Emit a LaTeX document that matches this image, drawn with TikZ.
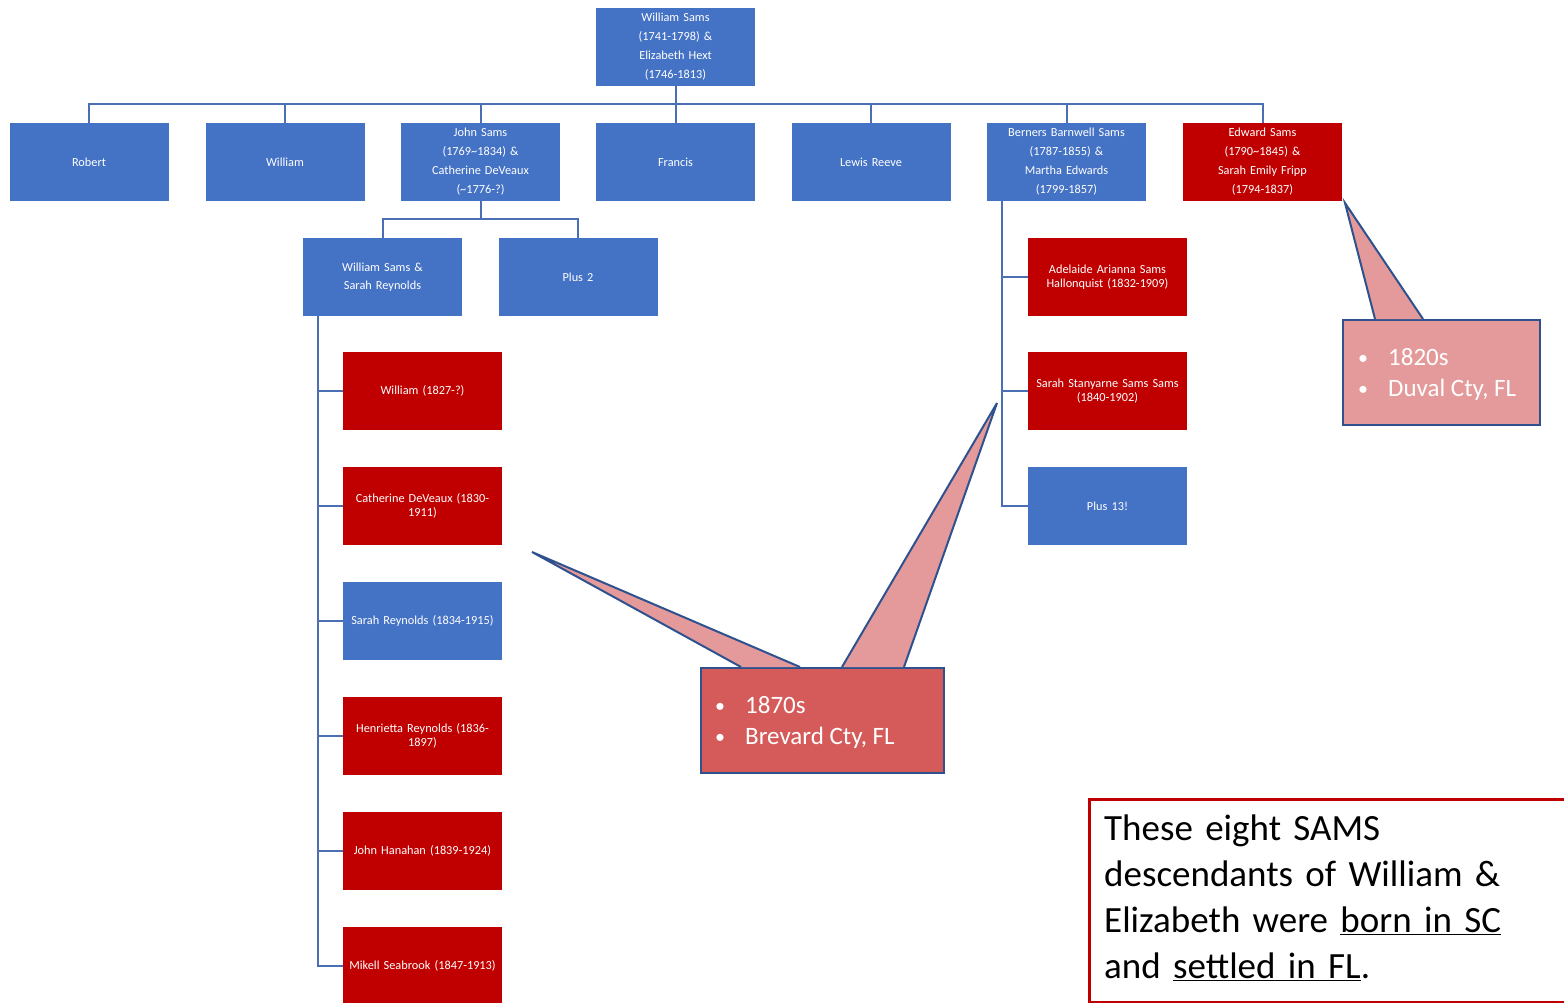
\documentclass[tikz,border=0pt]{standalone}
\usepackage{fontspec}
\setmainfont{Carlito}
\usetikzlibrary{calc}
\definecolor{bblue}{HTML}{4472C4}
\definecolor{rred}{HTML}{C00000}
\definecolor{lnblue}{HTML}{4A6FB5}
\definecolor{cborder}{HTML}{2F528F}
\definecolor{cpink}{HTML}{E49A9A}
\definecolor{cred}{HTML}{D55B5B}
\tikzset{
  pbox/.style={rectangle, minimum width=159pt, minimum height=78pt, inner sep=0pt,
    text width=155pt, align=center, text=white, font=\fontsize{12.3}{19}\selectfont},
  bluebox/.style={pbox, fill=bblue},
  redbox/.style={pbox, fill=rred},
  tight/.style={font=\fontsize{12.3}{14}\selectfont},
  conn/.style={draw=lnblue, line width=2pt},
  callout/.style={draw=cborder, line width=2pt, line join=miter},
  ctext/.style={text=white, font=\fontsize{25}{31}\selectfont, align=left, anchor=north west, inner sep=0pt}
}
\newcommand{\bul}[1]{\makebox[30pt][l]{\raisebox{1pt}{\scalebox{0.8}{•}}}#1}
\newcommand{\myul}[1]{\underline{#1}}
\begin{document}
\begin{tikzpicture}[x=1pt,y=-1pt]
\useasboundingbox (0,0) rectangle (1564,1003);
\clip (0,0) rectangle (1564,1003);
\fill[white] (0,0) rectangle (1564,1003);

% top
\node[bluebox] (top) at (675.5,47) {William Sams\\(1741-1798) \&\\Elizabeth Hext\\(1746-1813)};
% row 2
\node[bluebox] (robert) at (89,162) {Robert};
\node[bluebox] (william) at (285,162) {William};
\node[bluebox] (john) at (480.5,162) {John Sams\\(1769\textasciitilde1834) \&\\Catherine DeVeaux\\(\textasciitilde1776-?)};
\node[bluebox] (francis) at (675.5,162) {Francis};
\node[bluebox] (lewis) at (871,162) {Lewis Reeve};
\node[bluebox] (berners) at (1066.5,162) {Berners Barnwell Sams\\(1787-1855) \&\\Martha Edwards\\(1799-1857)};
\node[redbox] (edward) at (1262.5,162) {Edward Sams\\(1790\textasciitilde1845) \&\\Sarah Emily Fripp\\(1794-1837)};

\foreach \c in {robert,william,john,francis,lewis,berners,edward}
  \draw[conn] (top.south) -- ++(0,18) -| (\c.north);

% John's children
\node[bluebox, tight] (wss) at (382.5,277) {William Sams \&\\[4pt]Sarah Reynolds};
\node[bluebox] (plus2) at (578,277) {Plus 2};
\foreach \c in {wss,plus2}
  \draw[conn] (john.south) -- ++(0,18) -| (\c.north);

% William & Sarah's children
\node[redbox, tight] (k1) at (422.5,391) {William (1827-?)};
\node[redbox, tight] (k2) at (422.5,506) {Catherine DeVeaux (1830-\\1911)};
\node[bluebox, tight] (k3) at (422.5,621) {Sarah Reynolds (1834-1915)};
\node[redbox, tight] (k4) at (422.5,736) {Henrietta Reynolds (1836-\\1897)};
\node[redbox, tight] (k5) at (422.5,851) {John Hanahan (1839-1924)};
\node[redbox, tight] (k6) at (422.5,966) {Mikell Seabrook (1847-1913)};
\foreach \c in {k1,k2,k3,k4,k5,k6}
  \draw[conn] ($(wss.south west)+(15,0)$) |- (\c.west);

% Berners' children
\node[redbox, tight] (b1) at (1107.5,277) {Adelaide Arianna Sams\\Hallonquist (1832-1909)};
\node[redbox, tight] (b2) at (1107.5,391) {Sarah Stanyarne Sams Sams\\(1840-1902)};
\node[bluebox] (b3) at (1107.5,506) {Plus 13!};
\foreach \c in {b1,b2,b3}
  \draw[conn] ($(berners.south west)+(15,0)$) |- (\c.west);

% Callout Duval
\coordinate (tipE) at (1345,203);
\node[draw=cborder, line width=2pt, fill=cpink, minimum width=197pt, minimum height=105pt, inner sep=0pt] (duval) at (1441.5,372.5) {};
\filldraw[callout, fill=cpink] ($(duval.north west)+(33,0)$) -- (tipE) -- ($(duval.north west)+(81,0)$);
\node[ctext] (duvaltxt) at ($(duval.north west)+(16,29)$) {\bul{1820s}\\\bul{Duval Cty, FL}};

% Callout Brevard
\coordinate (tipW) at (532,552);
\coordinate (tipN) at (997,403);
\node[draw=cborder, line width=2pt, fill=cred, minimum width=243pt, minimum height=105pt, inner sep=0pt] (brev) at (822.5,720.5) {};
\filldraw[callout, fill=cpink] ($(brev.north west)+(41,0)$) -- (tipW) -- ($(brev.north west)+(100,0)$);
\filldraw[callout, fill=cpink] ($(brev.north west)+(142,0)$) -- (tipN) -- ($(brev.north west)+(204,0)$);
\node[ctext] (brevtxt) at ($(brev.north west)+(15,29)$) {\bul{1870s}\\\bul{Brevard Cty, FL}};

% Text box
\node[draw=rred, line width=3pt, rectangle, minimum width=490pt, minimum height=203pt, anchor=north west, inner sep=0pt] (note) at (1088,798) {};
\node[anchor=north west, inner sep=0pt, text width=440pt, align=left, font=\fontsize{37}{46}\selectfont] (notetxt) at (1104,815)
  {These eight SAMS\\descendants of William \&\\Elizabeth were \myul{born in SC}\\and \myul{settled in FL}.};
\end{tikzpicture}
\end{document}
